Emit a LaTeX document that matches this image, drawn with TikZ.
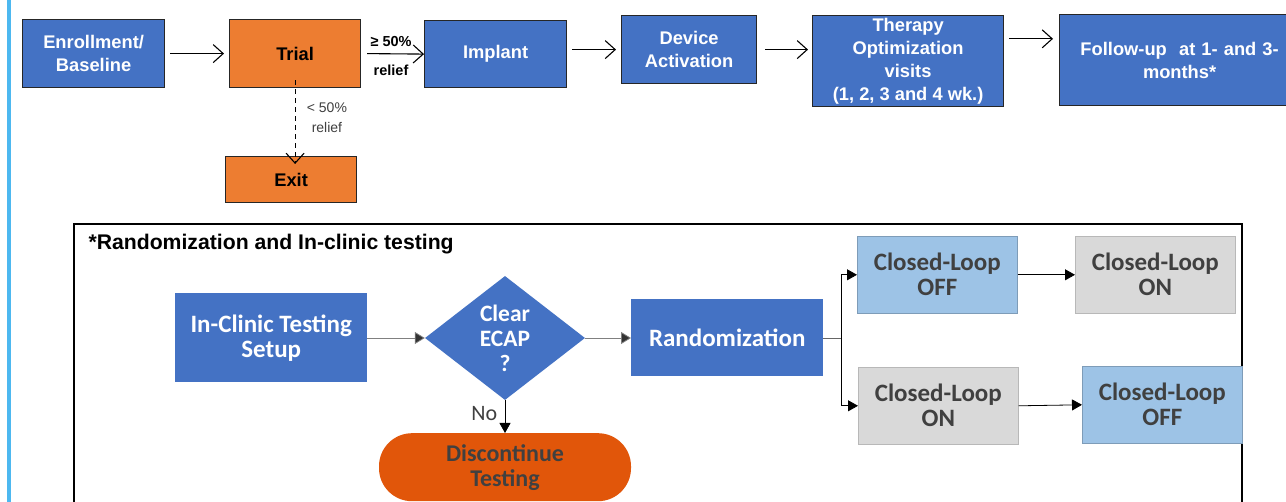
\documentclass[tikz,border=0pt]{standalone}
\usepackage{fontspec}
\setmainfont{Liberation Sans}
\newfontfamily\carlitofont{Carlito}
\usetikzlibrary{shapes.geometric,arrows.meta}
\definecolor{stepblue}{HTML}{4472C4}
\definecolor{steporange}{HTML}{ED7D31}
\definecolor{offblue}{HTML}{9DC3E6}
\definecolor{ongrey}{HTML}{D9D9D9}
\definecolor{stopred}{HTML}{E1560A}
\definecolor{sidebar}{HTML}{4DB8F0}
\definecolor{darktext}{HTML}{404040}
\tikzset{
  phase/.style={draw=black!85, line width=1.2pt, fill=stepblue, text=white,
    font=\fontsize{18.3}{23}\selectfont\bfseries, align=center, inner sep=0pt,
    anchor=north west},
  trialbox/.style={phase, fill=steporange, text=black},
  flow/.style={-{Straight Barb[length=10pt,width=18pt,line width=1.1pt]}, line width=1.1pt},
  block/.style={fill=stepblue, text=white, font=\carlitofont\fontsize{25}{25}\selectfont\bfseries,
    align=center, inner sep=0pt, anchor=north west},
  arm/.style={block, text=darktext, draw},
  link/.style={-{Triangle[length=10pt,width=11pt]}, line width=0.8pt},
}
\begin{document}
\begin{tikzpicture}[x=1pt,y=-1pt]
\useasboundingbox (0,0) rectangle (1286,502);
\fill[white] (0,0) rectangle (1286,502);
% side bar
\fill[sidebar] (7,0) rectangle (11,502);

% study flow
\node[phase, minimum width=142, minimum height=68] (enrol) at (22,19) {Enrollment/\\Baseline};
\node[trialbox, minimum width=131, minimum height=68] (trial) at (229,19) {Trial};
\node[phase, minimum width=142, minimum height=67] (implant) at (424,20) {Implant};
\node[phase, minimum width=135, minimum height=68] (activ) at (621,15) {Device\\Activation};
\node[phase, minimum width=191, minimum height=91] (optim) at (812,15) {Therapy\\Optimization\\visits\\(1, 2, 3 and 4 wk.)};
\node[phase, minimum width=240, minimum height=91, text width=226] (follow) at (1059,14) {Follow-up\ \ at 1- and 3-\\months*};
\node[trialbox, minimum width=131, minimum height=46] (exit) at (225,156) {Exit};

\draw[flow] ([xshift=5]enrol.east) -- ([xshift=-5]trial.west);
\draw[flow] ([xshift=6]trial.east) -- (implant.west)
  node[pos=0.42, above=3pt, font=\fontsize{14.5}{16}\selectfont\bfseries] (gt) {≥ 50\%}
  node[pos=0.42, below=7pt, font=\fontsize{14.5}{16}\selectfont\bfseries] (rel) {relief};
\draw[flow] ([xshift=5]implant.east |- activ.east) -- ([xshift=-5]activ.west);
\draw[flow] ([xshift=8]activ.east) -- ([xshift=-4]optim.west |- activ.east);
\draw[flow] ([xshift=5]optim.east |- follow.170) -- ([xshift=-6]follow.170);
\coordinate (dtop) at ([yshift=8]trial.south);
\draw[flow, dashed, dash pattern=on 5pt off 4pt, line width=0.9pt] (dtop) -- ([yshift=-8]dtop |- exit.north)
  node[pos=0.45, right=8pt, align=center, text=darktext, font=\fontsize{14}{20}\selectfont] (lt) {< 50\%\\relief};

% randomization frame
\draw[line width=1.8pt] (74,503) -- (74,224) -- (1242,224) -- (1242,503);
\node[anchor=west, font=\fontsize{21.2}{23}\selectfont\bfseries] (title) at (85,244) {*Randomization and In-clinic testing};

\node[block, minimum width=192, minimum height=89] (setup) at (175,293) {In-Clinic Testing\\Setup};
\node[diamond, fill=stepblue, text=white, font=\carlitofont\fontsize{23.5}{25}\selectfont\bfseries,
  align=center, inner sep=0pt, minimum width=160, minimum height=124] (ecap) at (505,338) {Clear\\ECAP\\?};
\node[block, minimum width=192, minimum height=77] (rand) at (631,299) {Randomization};
\node[anchor=north, fill=stopred, text=darktext, rounded corners=33pt, minimum width=252, minimum height=68,
  inner sep=0pt, align=center, font=\carlitofont\fontsize{24}{25}\selectfont\bfseries] (stop) at (505,433) {Discontinue\\Testing};

\node[arm, fill=offblue, draw=offblue!80!black, line width=0.6pt, minimum width=160, minimum height=77] (offA) at (857,236) {Closed-Loop\\OFF};
\node[arm, fill=ongrey, draw=ongrey!85!black, line width=0.6pt, minimum width=160, minimum height=77] (onA) at (1075,236) {Closed-Loop\\ON};
\node[arm, fill=ongrey, draw=ongrey!85!black, line width=0.6pt, minimum width=160, minimum height=77] (onB) at (858,367) {Closed-Loop\\ON};
\node[arm, fill=offblue, draw=offblue!80!black, line width=0.6pt, minimum width=160, minimum height=77] (offB) at (1082,366) {Closed-Loop\\OFF};

\draw[link, draw=black!50, -{Triangle[length=10pt,width=12pt,fill=black!80]}] (setup.east |- ecap.west) -- (ecap.west);
\draw[link, draw=black!50, -{Triangle[length=10pt,width=12pt,fill=black!80]}] (ecap.east) -- (rand.west |- ecap.east);
\draw[link] (ecap.south) -- (stop.north) node[pos=0.4, left=4pt, text=darktext, font=\carlitofont\fontsize{22}{24}\selectfont] (no) {No};
\coordinate (split) at (841,338);
\draw[line width=0.8pt, draw=black!60] (rand.east |- split) -- (split);
\draw[link] (split) |- (offA.west);
\draw[link] (split) |- (onB.west);
\draw[link] (offA.east) -- (onA.west |- offA.east);
\draw[link] (onB.east) -- (offB.west);
\end{tikzpicture}
\end{document}
